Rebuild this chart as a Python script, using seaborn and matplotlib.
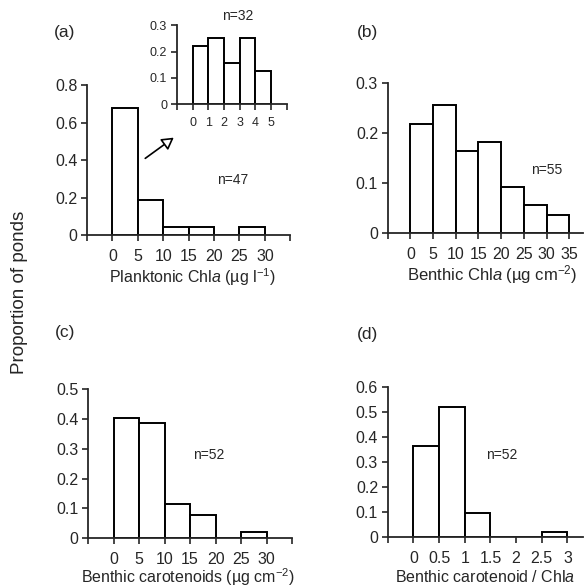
import numpy as np
import pandas as pd
import matplotlib
matplotlib.use("Agg")
import matplotlib.pyplot as plt
import seaborn as sns

# (a) planktonic chl a, 5 ug/l bins
plank_edges = [0, 5, 10, 15, 20, 25, 30]
plank_props = [0.68, 0.19, 0.043, 0.043, 0.0, 0.043]
# inset of (a), 1 ug/l bins
inset_edges = [0, 1, 2, 3, 4, 5]
inset_props = [0.22, 0.25, 0.156, 0.25, 0.125]
# (b) benthic chl a
benth_edges = [0, 5, 10, 15, 20, 25, 30, 35]
benth_props = [0.218, 0.255, 0.164, 0.182, 0.091, 0.055, 0.036]
# (c) benthic carotenoids
carot_edges = [0, 5, 10, 15, 20, 25, 30]
carot_props = [0.404, 0.385, 0.115, 0.077, 0.0, 0.019]
# (d) carotenoid / chl a ratio
ratio_edges = [0, 0.5, 1, 1.5, 2, 2.5, 3]
ratio_props = [0.365, 0.52, 0.096, 0.0, 0.0, 0.019]

sns.set_style("ticks")
plt.rcParams["font.family"] = ["Liberation Sans", "DejaVu Sans"]
plt.rcParams["mathtext.fontset"] = "custom"
plt.rcParams["mathtext.rm"] = "Liberation Sans"
plt.rcParams["mathtext.it"] = "Liberation Sans:italic"
plt.rcParams["axes.linewidth"] = 1.3
plt.rcParams["xtick.major.width"] = 1.2
plt.rcParams["ytick.major.width"] = 1.2

fig = plt.figure(figsize=(5.84, 5.88), dpi=100)


def hist_panel(rect, edges, props, xlim, xticks, xlabels, ylim, yticks, ylabels, fs=11.5, xpad=5.5):
    ax = fig.add_axes(rect)
    e = np.array(edges, dtype=float)
    mids = (e[:-1] + e[1:]) / 2
    df = pd.DataFrame({"x": mids, "w": props})
    sns.histplot(data=df, x="x", weights="w", bins=list(edges), stat="count",
                 color="white", edgecolor="black", linewidth=1.4, alpha=1, ax=ax)
    ax.set_xlim(*xlim)
    ax.set_ylim(*ylim)
    ax.set_xticks(xticks)
    ax.set_xticklabels(xlabels, fontsize=fs)
    ax.set_yticks(yticks)
    ax.set_yticklabels(ylabels, fontsize=fs)
    ax.set_xlabel("")
    ax.set_ylabel("")
    ax.tick_params(axis="x", length=4.5, pad=xpad)
    ax.tick_params(axis="y", length=4.5, pad=2.5)
    sns.despine(ax=ax)
    return ax


# (a)
xt = np.arange(-5, 40, 5)
hist_panel([0.149, 0.600, 0.348, 0.255], plank_edges, plank_props,
           (-5, 35), xt, [""] + [str(v) for v in xt[1:-1]] + [""],
           (0, 0.8), [0, 0.2, 0.4, 0.6, 0.8], ["0", "0.2", "0.4", "0.6", "0.8"])
# inset
xi = np.arange(-1, 7, 1)
hist_panel([0.303, 0.823, 0.188, 0.134], inset_edges, inset_props,
           (-1, 6), xi, [""] + [str(v) for v in xi[1:-1]] + [""],
           (0, 0.3), [0, 0.1, 0.2, 0.3], ["0", "0.1", "0.2", "0.3"], fs=9, xpad=5)
# (b)
xb = np.arange(-5, 40, 5)
hist_panel([0.664, 0.604, 0.334, 0.255], benth_edges, benth_props,
           (-5, 38), xb, [""] + [str(v) for v in xb[1:]],
           (0, 0.3), [0, 0.1, 0.2, 0.3], ["0", "0.1", "0.2", "0.3"])
# (c)
xc = np.arange(-5, 40, 5)
hist_panel([0.151, 0.085, 0.349, 0.253], carot_edges, carot_props,
           (-5, 35), xc, [""] + [str(v) for v in xc[1:-1]] + [""],
           (0, 0.5), [0, 0.1, 0.2, 0.3, 0.4, 0.5], ["0", "0.1", "0.2", "0.3", "0.4", "0.5"])
# (d)
xd = [-0.5, 0, 0.5, 1, 1.5, 2, 2.5, 3]
hist_panel([0.664, 0.087, 0.334, 0.255], ratio_edges, ratio_props,
           (-0.5, 3.3), xd, ["", "0", "0.5", "1", "1.5", "2", "2.5", "3"],
           (0, 0.6), [0, 0.1, 0.2, 0.3, 0.4, 0.5, 0.6],
           ["0", "0.1", "0.2", "0.3", "0.4", "0.5", "0.6"])

# panel letters
for s, x, y in [("(a)", 65, 32), ("(b)", 367, 32), ("(c)", 65, 333), ("(d)", 367, 335)]:
    fig.text(x / 584, 1 - y / 588, s, fontsize=12.5, ha="center", va="center")

# sample sizes
for s, x, y in [("n=47", 233, 180), ("n=32", 238, 16), ("n=55", 547, 170),
                ("n=52", 209, 455), ("n=52", 502, 455)]:
    fig.text(x / 584, 1 - y / 588, s, fontsize=10, ha="center", va="center")

# axis titles
fig.text(192 / 584, 1 - 277 / 588, r"Planktonic Chl$\mathit{a}$ (µg l$^{-1}$)",
         fontsize=11.5, ha="center", va="center")
fig.text(492 / 584, 1 - 275 / 588, r"Benthic Chl$\mathit{a}$ (µg cm$^{-2}$)",
         fontsize=12, ha="center", va="center")
fig.text(188 / 584, 1 - 577 / 588, r"Benthic carotenoids (µg cm$^{-2}$)",
         fontsize=11.5, ha="center", va="center")
fig.text(485 / 584, 1 - 577 / 588, r"Benthic carotenoid / Chl$\mathit{a}$",
         fontsize=11.5, ha="center", va="center")
fig.text(20 / 584, 1 - 292 / 588, "Proportion of ponds", fontsize=13.5,
         rotation=90, ha="center", va="center")

# arrow pointing to inset
fig.add_artist(matplotlib.patches.FancyArrowPatch(
    (143 / 584, 1 - 160 / 588), (176 / 584, 1 - 136 / 588),
    transform=fig.transFigure, arrowstyle="-|>,head_length=7,head_width=4",
    facecolor="white", edgecolor="black", linewidth=1.2))

fig.savefig("out.png", dpi=100)
